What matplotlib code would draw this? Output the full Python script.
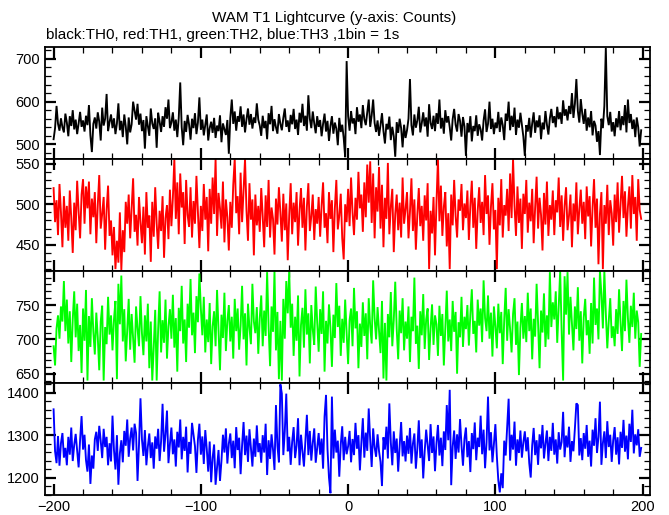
import numpy as np
import matplotlib
matplotlib.use("Agg")
import matplotlib.pyplot as plt
from matplotlib.ticker import MultipleLocator

plt.rcParams['font.family'] = ['Liberation Sans', 'DejaVu Sans']

time_start = -200
time_stop = 200

th0 = [
 512, 538, 590, 548, 532, 561, 540, 528, 572, 551, 519, 566, 543, 580, 535, 558, 524, 549, 576, 541,
 556, 530, 567, 545, 592, 521, 482, 548, 563, 537, 575, 553, 509, 586, 544, 560, 618, 531, 552, 570,
 538, 561, 524, 549, 596, 533, 555, 517, 570, 542, 500, 563, 528, 547, 600, 579, 558, 595, 546, 572,
 531, 557, 490, 566, 543, 520, 584, 549, 536, 561, 492, 574, 553, 529, 566, 541, 587, 560, 605, 538,
 551, 575, 532, 558, 517, 563, 645, 540, 498, 555, 529, 569, 546, 511, 560, 538, 573, 524, 551, 610,
 534, 558, 521, 546, 570, 509, 538, 553, 527, 562, 515, 544, 531, 568, 505, 549, 536, 522, 557, 478,
 562, 605, 548, 577, 532, 566, 553, 589, 541, 570, 528, 559, 584, 546, 571, 537, 563, 550, 596, 558,
 544, 520, 567, 538, 555, 512, 573, 547, 590, 531, 559, 540, 525, 571, 548, 533, 562, 584, 541, 556,
 529, 569, 547, 583, 536, 558, 522, 574, 551, 595, 543, 567, 532, 615, 560, 538, 577, 549, 526, 566,
 541, 557, 519, 548, 572, 530, 555, 508, 543, 566, 525, 551, 537, 498, 562, 529, 546, 515, 470, 695,
 566, 532, 578, 549, 561, 524, 587, 553, 570, 538, 592, 559, 545, 576, 605, 541, 568, 605, 550, 529,
 556, 520, 545, 573, 531, 502, 548, 535, 565, 510, 541, 519, 471, 552, 527, 560, 538, 493, 546, 515,
 533, 560, 653, 545, 521, 570, 539, 556, 588, 528, 549, 575, 542, 563, 518, 594, 550, 536, 567, 531,
 573, 548, 605, 537, 562, 525, 580, 551, 566, 540, 509, 559, 583, 546, 530, 571, 555, 518, 564, 542,
 473, 550, 528, 566, 507, 543, 531, 568, 520, 547, 535, 509, 556, 582, 529, 548, 600, 536, 560, 524,
 551, 538, 576, 529, 563, 545, 510, 572, 555, 600, 533, 567, 541, 586, 522, 558, 539, 574, 547, 518,
 473, 545, 530, 562, 516, 549, 575, 527, 556, 540, 568, 512, 551, 535, 578, 546, 523, 561, 583, 550,
 566, 540, 588, 559, 575, 548, 603, 567, 582, 556, 590, 571, 620, 562, 595, 653, 578, 551, 606, 572,
 548, 583, 532, 563, 540, 578, 521, 555, 544, 506, 531, 475, 560, 538, 590, 726, 566, 545, 576, 530,
 552, 519, 561, 540, 578, 533, 566, 545, 592, 528, 605, 550, 571, 536, 558, 517, 563, 540, 495, 533,
]

th1 = [
 520, 478, 505, 462, 525, 490, 447, 510, 471, 498, 455, 517, 483, 440, 502, 468, 529, 491, 458, 512,
 531, 476, 522, 495, 528, 463, 507, 484, 515, 452, 499, 536, 470, 488, 509, 444, 493, 523, 461, 480,
 437, 472, 420, 455, 428, 490, 419, 468, 441, 503, 476, 512, 458, 495, 532, 466, 487, 449, 509, 478,
 452, 497, 438, 515, 471, 486, 429, 503, 460, 521, 476, 445, 492, 467, 510, 434, 483, 499, 457, 518,
 473, 508, 556, 482, 527, 463, 538, 496, 515, 451, 530, 487, 472, 521, 459, 504, 476, 535, 490, 446,
 498, 467, 525, 481, 509, 442, 519, 476, 533, 488, 556, 461, 514, 495, 470, 528, 453, 506, 484, 443,
 503, 471, 524, 556, 489, 510, 463, 539, 478, 517, 556, 492, 455, 526, 481, 506, 437, 512, 474, 498,
 466, 520, 485, 447, 511, 472, 530, 459, 496, 482, 438, 507, 475, 521, 490, 454, 513, 468, 501, 431,
 487, 526, 463, 502, 478, 515, 449, 492, 520, 471, 508, 443, 497, 526, 467, 485, 512, 456, 494, 476,
 509, 460, 498, 527, 471, 489, 452, 515, 482, 505, 441, 495, 530, 469, 486, 513, 458, 432, 500, 478,
 519, 473, 533, 490, 462, 508, 481, 540, 495, 512, 466, 527, 484, 549, 502, 553, 477, 538, 458, 521,
 491, 546, 470, 524, 447, 508, 482, 551, 463, 497, 519, 441, 488, 512, 468, 502, 459, 533, 476, 494,
 515, 458, 491, 532, 467, 506, 444, 487, 520, 473, 498, 455, 511, 480, 526, 420, 492, 464, 509, 437,
 502, 556, 479, 523, 461, 497, 515, 448, 489, 420, 512, 474, 530, 486, 459, 506, 492, 525, 468, 501,
 483, 517, 456, 498, 529, 471, 508, 445, 492, 521, 477, 503, 462, 536, 488, 511, 450, 497, 526, 469,
 493, 420, 508, 474, 531, 459, 499, 486, 519, 467, 538, 483, 556, 498, 461, 522, 477, 507, 445, 513,
 488, 530, 465, 502, 479, 519, 452, 496, 534, 470, 508, 487, 443, 514, 475, 528, 461, 499, 481, 517,
 462, 505, 490, 533, 472, 511, 455, 498, 521, 468, 486, 512, 447, 501, 479, 527, 463, 494, 518, 476,
 503, 457, 522, 485, 510, 448, 496, 531, 471, 507, 426, 488, 515, 420, 499, 476, 524, 462, 505, 489,
 449, 512, 478, 527, 465, 501, 535, 483, 516, 460, 497, 522, 470, 536, 488, 509, 455, 531, 493, 482,
]

th2 = [
 690, 662, 716, 735, 701, 748, 726, 785, 712, 758, 694, 741, 667, 729, 770, 703, 752, 683, 721, 651,
 745, 698, 772, 640, 734, 689, 760, 711, 678, 739, 703, 655, 726, 749, 640, 718, 693, 762, 707, 735,
 684, 729, 756, 642, 781, 722, 793, 697, 744, 668, 712, 759, 685, 737, 701, 666, 748, 716, 690, 763,
 709, 677, 735, 697, 752, 658, 726, 640, 688, 743, 640, 715, 770, 681, 728, 695, 758, 672, 719, 744,
 701, 765, 688, 731, 653, 746, 712, 778, 694, 729, 667, 752, 717, 788, 706, 739, 680, 763, 725, 796,
 745, 706, 762, 681, 729, 696, 753, 664, 719, 741, 690, 772, 714, 655, 736, 702, 768, 683, 727, 750,
 697, 733, 672, 759, 712, 745, 685, 720, 778, 700, 738, 662, 752, 717, 693, 781, 726, 709, 747, 679,
 731, 764, 690, 742, 705, 798, 719, 661, 748, 711, 800, 684, 740, 642, 727, 640, 759, 701, 785, 738,
 800, 717, 752, 676, 733, 698, 764, 646, 721, 746, 688, 773, 707, 738, 665, 750, 714, 692, 777, 725,
 682, 744, 708, 770, 653, 727, 694, 751, 717, 660, 736, 702, 782, 718, 749, 676, 730, 695, 758, 709,
 664, 728, 745, 690, 775, 716, 741, 658, 723, 689, 754, 705, 738, 671, 760, 719, 694, 786, 731, 700,
 747, 712, 680, 756, 643, 724, 640, 737, 703, 769, 690, 728, 784, 715, 671, 742, 709, 760, 684, 726,
 701, 748, 667, 733, 712, 790, 694, 720, 657, 741, 706, 766, 686, 729, 745, 670, 716, 751, 692, 735,
 722, 676, 749, 705, 737, 662, 718, 771, 697, 729, 683, 756, 711, 740, 650, 725, 703, 762, 689, 733,
 715, 750, 691, 736, 773, 708, 727, 681, 758, 720, 745, 696, 786, 731, 712, 764, 701, 739, 675, 748,
 719, 687, 752, 709, 740, 664, 728, 775, 698, 744, 715, 681, 737, 760, 692, 726, 648, 717, 753, 701,
 734, 696, 768, 712, 745, 671, 730, 704, 781, 723, 658, 742, 710, 767, 689, 735, 700, 798, 718, 754,
 729, 770, 695, 749, 800, 712, 640, 792, 736, 798, 707, 762, 723, 684, 748, 715, 776, 698, 741, 665,
 732, 759, 706, 728, 679, 753, 694, 790, 721, 745, 700, 800, 766, 716, 800, 738, 687, 727, 760, 702,
 719, 690, 744, 708, 773, 724, 683, 756, 712, 787, 731, 695, 749, 718, 768, 701, 742, 725, 660, 708,
]

th3 = [
 1361, 1262, 1234, 1298, 1228, 1281, 1305, 1247, 1270, 1229, 1296, 1254, 1318, 1239, 1277, 1303, 1262, 1224, 1289, 1345,
 1266, 1301, 1241, 1214, 1278, 1185, 1252, 1221, 1290, 1308, 1263, 1322, 1287, 1246, 1315, 1272, 1296, 1229, 1281, 1238,
 1346, 1265, 1219, 1300, 1183, 1257, 1288, 1236, 1310, 1275, 1337, 1249, 1293, 1318, 1264, 1327, 1305, 1192, 1278, 1387,
 1290, 1251, 1312, 1229, 1273, 1304, 1246, 1283, 1221, 1297, 1268, 1315, 1239, 1286, 1374, 1261, 1302, 1358, 1234, 1279,
 1318, 1255, 1290, 1226, 1308, 1271, 1337, 1243, 1296, 1263, 1320, 1212, 1284, 1256, 1329, 1301, 1274, 1211, 1289, 1327,
 1254, 1297, 1232, 1312, 1268, 1214, 1285, 1189, 1247, 1278, 1183, 1223, 1265, 1192, 1240, 1301, 1259, 1316, 1233, 1280,
 1304, 1246, 1287, 1222, 1319, 1265, 1294, 1208, 1276, 1331, 1253, 1299, 1237, 1314, 1270, 1226, 1292, 1249, 1323, 1260,
 1281, 1235, 1300, 1259, 1327, 1206, 1288, 1244, 1302, 1266, 1218, 1371, 1275, 1236, 1420, 1398, 1253, 1309, 1398, 1262,
 1296, 1230, 1284, 1319, 1246, 1275, 1340, 1229, 1301, 1262, 1226, 1289, 1348, 1253, 1310, 1240, 1282, 1316, 1235, 1271,
 1305, 1254, 1292, 1221, 1344, 1395, 1267, 1200, 1163, 1391, 1245, 1313, 1259, 1287, 1202, 1278, 1321, 1241, 1296, 1255,
 1274, 1310, 1236, 1291, 1253, 1329, 1268, 1300, 1217, 1282, 1340, 1247, 1306, 1263, 1363, 1288, 1225, 1316, 1271, 1249,
 1302, 1262, 1237, 1180, 1295, 1266, 1320, 1245, 1375, 1283, 1229, 1309, 1258, 1292, 1214, 1275, 1331, 1250, 1286, 1238,
 1299, 1256, 1317, 1233, 1280, 1304, 1221, 1268, 1335, 1246, 1290, 1198, 1262, 1313, 1276, 1239, 1326, 1258, 1297, 1215,
 1281, 1324, 1252, 1294, 1227, 1309, 1265, 1371, 1288, 1407, 1182, 1273, 1311, 1244, 1302, 1259, 1338, 1276, 1228, 1291,
 1318, 1248, 1286, 1213, 1305, 1267, 1330, 1241, 1294, 1272, 1346, 1255, 1313, 1222, 1283, 1391, 1264, 1307, 1236, 1279,
 1326, 1250, 1193, 1165, 1210, 1175, 1287, 1252, 1319, 1386, 1240, 1301, 1266, 1332, 1228, 1290, 1258, 1311, 1247, 1283,
 1309, 1262, 1295, 1234, 1200, 1276, 1317, 1253, 1288, 1230, 1302, 1269, 1324, 1245, 1280, 1311, 1239, 1296, 1263, 1329,
 1254, 1290, 1233, 1307, 1266, 1284, 1355, 1248, 1299, 1271, 1320, 1237, 1286, 1262, 1316, 1375, 1371, 1252, 1293, 1241,
 1305, 1268, 1324, 1249, 1287, 1226, 1313, 1275, 1340, 1258, 1296, 1379, 1230, 1281, 1309, 1246, 1333, 1272, 1301, 1237,
 1288, 1319, 1254, 1295, 1231, 1308, 1270, 1336, 1261, 1299, 1243, 1327, 1284, 1360, 1257, 1302, 1276, 1314, 1249, 1270,
]

series = [th0, th1, th2, th3]
colors = ['black', '#ff0000', '#00ff00', '#0000ff']
ylims = [(466, 728), (418, 556), (637, 800), (1160, 1424)]
yticks = [[500, 600, 700], [450, 500, 550], [650, 700, 750], [1200, 1300, 1400]]
yminor = [20, 10, 10, 20]
xticks = [-200, -100, 0, 100, 200]
title = "WAM T1 Lightcurve (y-axis: Counts)"
subtitle = "black:TH0, red:TH1, green:TH2, blue:TH3 ,1bin = 1s"

t = np.arange(time_start, time_stop)

fig = plt.figure(figsize=(6.69, 5.15), dpi=100)
gs = fig.add_gridspec(4, 1, left=0.068, right=0.9716, top=1 - 47 / 515,
                      bottom=1 - 494.5 / 515, hspace=0)
axes = [fig.add_subplot(gs[i, 0]) for i in range(4)]

for i, ax in enumerate(axes):
    ax.plot(t, series[i], color=colors[i], lw=1.35, solid_joinstyle='miter')
    ax.set_xlim(-205.5, 205)
    ax.set_ylim(*ylims[i])
    ax.set_yticks(yticks[i])
    ax.yaxis.set_minor_locator(MultipleLocator(yminor[i]))
    ax.set_xticks(xticks)
    ax.xaxis.set_minor_locator(MultipleLocator(20))
    ax.tick_params(which='major', direction='in', length=8, width=1.6,
                   top=True, right=True, labelsize=10.5, pad=4)
    ax.tick_params(which='minor', direction='in', length=4, width=0.9,
                   top=True, right=True)
    for s in ax.spines.values():
        s.set_linewidth(1.3)
    if i < 3:
        ax.tick_params(labelbottom=False)

fig.text(0.5, 1 - 18 / 515, title, ha='center', va='center', fontsize=11)
fig.text(46 / 669, 1 - 35 / 515, subtitle, ha='left', va='center', fontsize=11)

fig.savefig('out.png', dpi=100)
